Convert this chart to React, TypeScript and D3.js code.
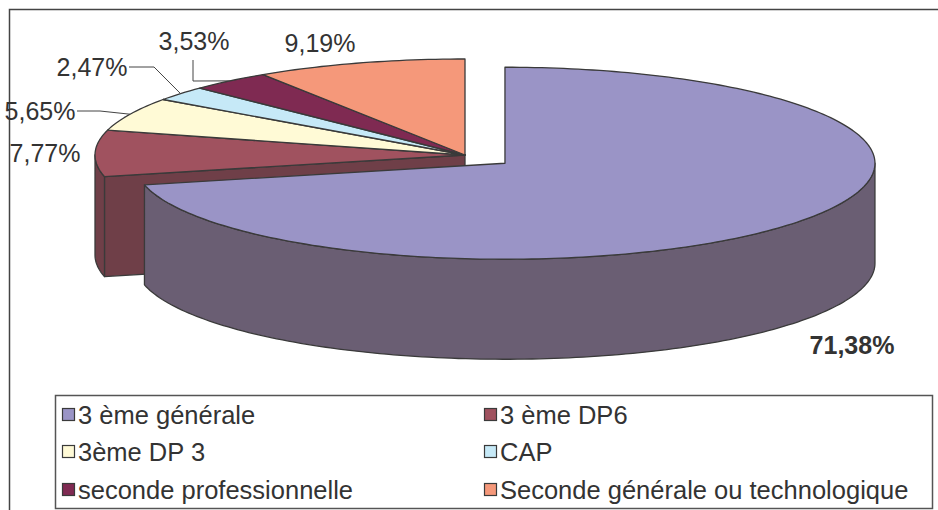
import * as d3 from 'd3'

const categories = [
  '3 ème générale',
  '3 ème DP6',
  '3ème DP 3',
  'CAP',
  'seconde professionnelle',
  'Seconde générale ou technologique'
]
const shares = [71.38, 7.77, 5.65, 2.47, 3.53, 9.19]
const topColors = ['#9a94c6', '#a0525f', '#fffad6', '#c6e9f7', '#7f2a52', '#f5987a']
const sideColors = ['#6a5e73', '#6f3f48', '#b5b197', '#8ba5af', '#591d3a', '#ad6b56']
const explodedIndex = 0

// label placement (text centre) and leader style, in slice order
const labelLayout = [
  { x: 852, y: 345, bold: true, leader: '' },
  { x: 45, y: 153, bold: false, leader: '' },
  { x: 40, y: 111, bold: false, leader: 'h', elbow: 100 },
  { x: 92, y: 67, bold: false, leader: 'h', elbow: 154 },
  { x: 194, y: 41, bold: false, leader: 'v', elbow: 81 },
  { x: 320, y: 43, bold: false, leader: '' }
]

const W = 938
const H = 510
const cx = 465
const cy = 155
const rx = 370
const ry = 96
const depth = 100
const explode = 0.138
const stroke = '#3a3a3a'
const font = '"Liberation Sans", Arial, sans-serif'

const fmt = d3.formatLocale({ decimal: ',', thousands: ' ', grouping: [3], currency: ['', ' €'] }).format('.2f')

type P = [number, number]

const pt = (a: number, c: P, dz = 0): P => [c[0] + rx * Math.sin(a), c[1] - ry * Math.cos(a) + dz]

const arcPts = (a0: number, a1: number, c: P, dz = 0): P[] => {
  const n = Math.max(2, Math.ceil(Math.abs(a1 - a0) / 0.02))
  return d3.range(n + 1).map(i => pt(a0 + ((a1 - a0) * i) / n, c, dz))
}

const line = d3.line<P>()

const App = () => {
  const arcs = d3.pie<number>().sort(null).value(d => d)(shares)

  const centers: P[] = arcs.map((a, i) => {
    if (i !== explodedIndex) return [cx, cy]
    const mid = (a.startAngle + a.endAngle) / 2
    return [cx + explode * rx * Math.sin(mid), cy - explode * ry * Math.cos(mid)]
  })

  const topPath = (i: number) => {
    const a = arcs[i]
    const c = centers[i]
    return line([c, ...arcPts(a.startAngle, a.endAngle, c)])! + 'Z'
  }

  // front wall, visible between 90° and 270°
  const wallPath = (i: number) => {
    const a = arcs[i]
    const a0 = Math.max(a.startAngle, Math.PI / 2)
    const a1 = Math.min(a.endAngle, (3 * Math.PI) / 2)
    if (a1 <= a0) return null
    const c = centers[i]
    return line([...arcPts(a0, a1, c), ...arcPts(a1, a0, c, depth)])! + 'Z'
  }

  const facePath = (angle: number, c: P) =>
    line([c, pt(angle, c), pt(angle, c, depth), [c[0], c[1] + depth]])! + 'Z'

  // cut faces of slices next to the exploded one
  const faces: { d: string; color: string }[] = []
  arcs.forEach((a, i) => {
    if (i === explodedIndex) return
    const prev = (i - 1 + arcs.length) % arcs.length
    if (prev === explodedIndex && Math.abs(Math.sin(a.startAngle)) > 0.05)
      faces.push({ d: facePath(a.startAngle, centers[i]), color: sideColors[i] })
  })

  const rest = arcs.map((_, i) => i).filter(i => i !== explodedIndex)

  const legendCols = [62, 484]
  const legendRows = [415, 452, 490]

  return (
    <svg width={W} height={H} style={{ position: 'absolute', left: 0, top: 0, background: '#fff' }}>
      <rect x={9.5} y={9.5} width={1000} height={1000} fill="#fff" stroke="#444" strokeWidth={1.5} />

      <g strokeLinejoin="round">
        {faces.map((f, k) => (
          <path key={'f' + k} d={f.d} fill={f.color} stroke={stroke} strokeWidth={1.3} />
        ))}
        {rest.map(i => {
          const d = wallPath(i)
          return d ? <path key={'w' + i} d={d} fill={sideColors[i]} stroke={stroke} strokeWidth={1.3} /> : null
        })}
        {rest.map(i => (
          <path key={'t' + i} d={topPath(i)} fill={topColors[i]} stroke={stroke} strokeWidth={1.3} />
        ))}
        {wallPath(explodedIndex) && (
          <path d={wallPath(explodedIndex)!} fill={sideColors[explodedIndex]} stroke={stroke} strokeWidth={1.3} />
        )}
        <path d={topPath(explodedIndex)} fill={topColors[explodedIndex]} stroke={stroke} strokeWidth={1.3} />
      </g>

      {/* data labels */}
      <g fontFamily={font} fontSize={25} fill="#333">
        {arcs.map((a, i) => {
          const l = labelLayout[i]
          const mid = (a.startAngle + a.endAngle) / 2
          const rim = pt(mid, centers[i])
          let lead: P[] | null = null
          if (l.leader === 'h') lead = [[l.x + 37, l.y], [l.elbow!, l.y], rim]
          if (l.leader === 'v') lead = [[l.x - 1, l.y + 19], [l.x - 1, l.elbow!], rim]
          return (
            <g key={'l' + i}>
              {lead && <path d={line(lead)!} fill="none" stroke="#444" strokeWidth={1} />}
              <text x={l.x} y={l.y} dy="0.35em" textAnchor="middle" fontWeight={l.bold ? 'bold' : 'normal'}>
                {fmt(shares[i]) + '%'}
              </text>
            </g>
          )
        })}
      </g>

      {/* legend */}
      <rect x={55.5} y={395.5} width={877} height={113} fill="#fff" stroke="#555" strokeWidth={1.5} />
      <g fontFamily={font} fontSize={25.5} fill="#333">
        {categories.map((c, i) => {
          const x = legendCols[i % 2]
          const y = legendRows[Math.floor(i / 2)]
          return (
            <g key={'g' + i}>
              <rect x={x + 0.5} y={y - 6.5} width={12} height={12} fill={topColors[i]} stroke={stroke} strokeWidth={1.2} />
              <text x={x + 16} y={y} dy="0.35em">
                {c}
              </text>
            </g>
          )
        })}
      </g>
    </svg>
  )
}

export default App
